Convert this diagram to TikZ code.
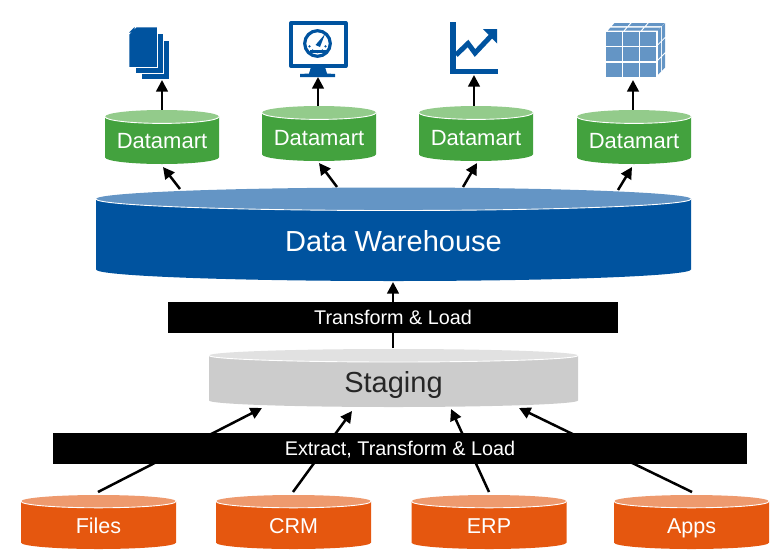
\documentclass[tikz,border=0pt]{standalone}
\usepackage{fontspec}
\setmainfont{Liberation Sans}
\usetikzlibrary{arrows.meta}

\definecolor{wareBlue}{HTML}{00539F}
\definecolor{wareTop}{HTML}{6495C5}
\definecolor{martGreen}{HTML}{43A23E}
\definecolor{martTop}{HTML}{93CB8B}
\definecolor{stageGray}{HTML}{CCCCCC}
\definecolor{stageTop}{HTML}{E1E1E1}
\definecolor{srcOrange}{HTML}{E5570F}
\definecolor{srcTop}{HTML}{EE9A6E}

\tikzset{
	capsBox/.style={text depth=0pt, inner sep=0pt},
	martText/.style={capsBox, text height=15.8pt, text=white, font=\fontsize{22}{26}\selectfont},
	srcText/.style={capsBox, text height=15.5pt, text=white, font=\fontsize{21.5}{25}\selectfont},
	bigText/.style={capsBox, text height=20.9pt, font=\fontsize{29}{33}\selectfont},
	band/.style={capsBox, text height=14.3pt, fill=black, text=white, minimum height=31pt, font=\fontsize{19.8}{23}\selectfont},
	flow/.style={black, line width=2.5pt, -{Triangle[length=11.5pt,width=11.5pt]}},
	cell/.style={fill=wareTop, draw=none},
	paper/.style={fill=wareBlue, draw=white, line width=0.8pt},
}

% name, centre x, top y, bottom y, x radius, y radius, body colour, lid colour, text style and text
\newcommand{\drum}[9]{
	\fill[#7] (#2-#5,#3+#6) -- (#2-#5,#4-#6) arc[start angle=180, end angle=360, x radius=#5 pt, y radius=#6 pt] -- (#2+#5,#3+#6) -- cycle;
	\fill[#8] (#2,#3+#6) ellipse[x radius=#5 pt, y radius=#6 pt];
	\draw[white, line width=0.9pt] (#2-#5,#3+#6) arc[start angle=180, end angle=360, x radius=#5 pt, y radius=#6 pt];
	\node[#9] (#1) at (#2,{(#3+#4)/2+0.6*#6})
}

\begin{document}
\begin{tikzpicture}[x=1pt, y=-1pt]
	\useasboundingbox (0,0) rectangle (778,552);

	% free ends of the arrows
	\coordinate (iconDocs) at (162,80);
	\coordinate (iconDash) at (318,77);
	\coordinate (iconChart) at (474,75);
	\coordinate (iconCube) at (633,80);
	\coordinate (dmAtop) at (162,112);
	\coordinate (dmBtop) at (318,108);
	\coordinate (dmCtop) at (474,108);
	\coordinate (dmDtop) at (633,112);
	\coordinate (whA) at (180,189);
	\coordinate (whB) at (337,187);
	\coordinate (whC) at (463,187);
	\coordinate (whD) at (618,190);
	\coordinate (tipA) at (163,167);
	\coordinate (tipB) at (319,163);
	\coordinate (tipC) at (477,163);
	\coordinate (tipD) at (632,167);
	\coordinate (whIn) at (393,282);
	\coordinate (stTop) at (393,348);
	\coordinate (stA) at (262,408);
	\coordinate (stB) at (352,411);
	\coordinate (stC) at (451,409);
	\coordinate (stD) at (519,408);
	\coordinate (srcA) at (98,492);
	\coordinate (srcB) at (293,492);
	\coordinate (srcC) at (489,492);
	\coordinate (srcD) at (692,492);

	% arrows first, the bands lie over them
	\draw[flow] (stTop) -- (whIn);
	\draw[flow] (srcA) -- (stA);
	\draw[flow] (srcB) -- (stB);
	\draw[flow] (srcC) -- (stC);
	\draw[flow] (srcD) -- (stD);
	\draw[flow] (whA) -- (tipA);
	\draw[flow] (whB) -- (tipB);
	\draw[flow] (whC) -- (tipC);
	\draw[flow] (whD) -- (tipD);
	\draw[flow] (dmAtop) -- (iconDocs);
	\draw[flow] (dmBtop) -- (iconDash);
	\draw[flow] (dmCtop) -- (iconChart);
	\draw[flow] (dmDtop) -- (iconCube);

	% datamarts
	\drum{dmA}{162}{110}{164}{57}{6.7}{martGreen}{martTop}{martText} {Datamart};
	\drum{dmB}{319}{106}{161}{57}{6.7}{martGreen}{martTop}{martText} {Datamart};
	\drum{dmC}{476}{106}{161}{57}{6.7}{martGreen}{martTop}{martText} {Datamart};
	\drum{dmD}{634}{110}{164}{57}{6.7}{martGreen}{martTop}{martText} {Datamart};

	% warehouse and staging
	\drum{warehouse}{393.5}{187.5}{281}{297.5}{11.5}{wareBlue}{wareTop}{bigText, text=white} {Data Warehouse};
	\drum{staging}{393.5}{349}{407}{184.5}{6.5}{stageGray}{stageTop}{bigText, text=black!85} {Staging};

	% bands
	\node[band, minimum width=450pt] (bandLoad) at (393,317.5) {Transform \& Load};
	\node[band, minimum width=694pt] (bandEtl) at (400,448.5) {Extract, Transform \& Load};

	% sources
	\drum{files}{98.5}{495}{549}{77.5}{6.4}{srcOrange}{srcTop}{srcText} {Files};
	\drum{crm}{293.5}{495}{549}{77.5}{6.4}{srcOrange}{srcTop}{srcText} {CRM};
	\drum{erp}{489}{495}{549}{77.5}{6.4}{srcOrange}{srcTop}{srcText} {ERP};
	\drum{apps}{691.5}{495}{549}{77.5}{6.4}{srcOrange}{srcTop}{srcText} {Apps};

	% documents icon
	\begin{scope}
		\filldraw[paper] (141,40) rectangle (169.5,79.5);
		\filldraw[paper] (135,33) rectangle (163.5,73.5);
		\filldraw[paper] (136,27) -- (157.5,27) -- (157.5,67.5) -- (129,67.5) -- (129,34) -- cycle;
		\fill[wareBlue] (129,32.5) -- (134.5,27) -- (134.5,32.5) -- cycle;
	\end{scope}

	% dashboard icon
	\begin{scope}
		\draw[wareBlue, line width=4pt, line join=round] (291,23) rectangle (345.5,66);
		\fill[wareBlue] (311,67) -- (325,67) -- (327,73.5) -- (335,74) -- (335,77) -- (300,77) -- (300,74) -- (309,73.5) -- cycle;
		\draw[wareBlue, line width=3.2pt] (317.5,43.5) circle (12.8);
		\foreach \a in {20,55,90,125,160}
			\fill[wareBlue] (317.5,43.5) ++(\a:8.5) circle (1.3);
		\fill[wareBlue] (315.5,45) -- (325,34) -- (320,47) -- cycle;
		\fill[wareBlue] (309.5,49.5) rectangle (325.5,53);
	\end{scope}

	% chart icon
	\begin{scope}
		\fill[wareBlue] (450,22) rectangle (455.5,74);
		\fill[wareBlue] (450,69) rectangle (498,74);
		\draw[wareBlue, line width=5pt, line join=miter] (456,55) -- (468,43.5) -- (475,53) -- (492,35);
		\fill[wareBlue] (483,29) -- (497,29) -- (497,43.5) -- cycle;
	\end{scope}

	% cube icon
	\begin{scope}
		\def\cw{15.6};
		\def\ch{13.8};
		\def\cgap{1.6};
		\foreach \i in {0,1,2}
			\foreach \j in {0,1,2}
				\fill[cell] ({606+\i*(\cw+\cgap)},{32+\j*(\ch+\cgap)}) rectangle +(\cw,\ch);
		\foreach \i in {0,1,2} {
			\fill[cell] ({608+\i*(\cw+\cgap)},30.5) -- +(\cw,0) -- +(\cw+2.5,-3) -- +(2.5,-3) -- cycle;
			\fill[cell] ({612+\i*(\cw+\cgap)},26) -- +(\cw,0) -- +(\cw+2.5,-3) -- +(2.5,-3) -- cycle;
		}
		\foreach \j in {0,1,2} {
			\fill[cell] (658,{30+\j*(\ch+\cgap)}) -- +(3,-3) -- +(3,\ch-3) -- +(0,\ch) -- cycle;
			\fill[cell] (662,{26+\j*(\ch+\cgap)}) -- +(3,-3) -- +(3,\ch-3) -- +(0,\ch) -- cycle;
		}
	\end{scope}
\end{tikzpicture}
\end{document}
